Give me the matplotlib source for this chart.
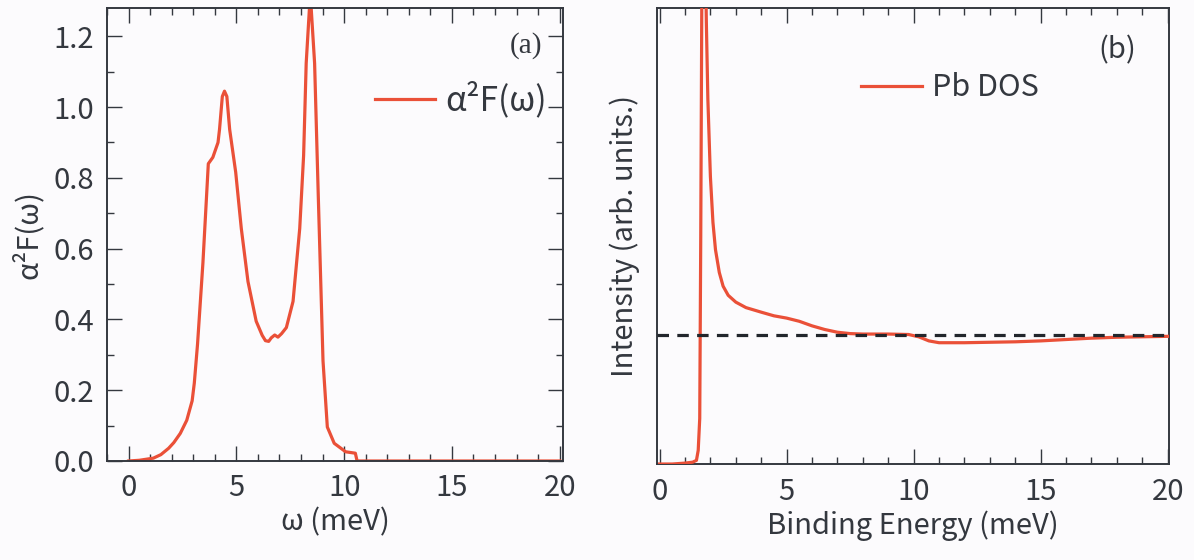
import matplotlib
matplotlib.use("Agg")
import matplotlib.pyplot as plt
from matplotlib.ticker import MultipleLocator, NullLocator

# Eliashberg function of Pb (panel a)
omega = [0.0, 0.5, 1.15, 1.5, 1.86, 2.1, 2.4, 2.7, 2.95, 3.05, 3.2, 3.45, 3.7,
         3.91, 4.15, 4.22, 4.35, 4.45, 4.56, 4.69, 4.97, 5.23, 5.54, 5.92,
         6.2, 6.35, 6.5, 6.62, 6.78, 6.93, 7.1, 7.32, 7.63, 7.94, 8.12, 8.24,
         8.43, 8.63, 8.8, 9.02, 9.22, 9.54, 10.07, 10.52, 10.6, 12.0, 15.0, 20.0]
a2F = [0.0, 0.002, 0.008, 0.018, 0.036, 0.052, 0.078, 0.115, 0.17, 0.22, 0.33,
       0.56, 0.84, 0.858, 0.90, 0.937, 1.03, 1.045, 1.03, 0.937, 0.816,
       0.657, 0.507, 0.395, 0.355, 0.34, 0.338, 0.348, 0.356, 0.35, 0.36,
       0.377, 0.451, 0.657, 0.863, 1.124, 1.32, 1.124, 0.75, 0.283, 0.096,
       0.05, 0.026, 0.022, 0.0, 0.0, 0.0, 0.0]

# Superconducting Pb density of states (panel b)
energy = [0.0, 0.5, 1.0, 1.3, 1.45, 1.52, 1.58, 1.62, 1.66, 1.72, 1.78, 1.84,
          1.9, 2.0, 2.1, 2.2, 2.35, 2.5, 2.7, 3.0, 3.4, 4.0, 4.5, 5.0, 5.5,
          6.0, 6.5, 7.0, 7.5, 8.0, 9.0, 9.8, 10.2, 10.6, 11.0, 12.0, 13.0,
          14.0, 15.0, 16.0, 17.0, 18.0, 19.0, 20.0]
dos = [0.0, 0.0, 0.002, 0.004, 0.008, 0.03, 0.1, 0.5, 1.0, 1.4, 1.2, 0.97,
       0.8, 0.63, 0.53, 0.47, 0.42, 0.39, 0.37, 0.355, 0.343, 0.333, 0.325,
       0.32, 0.313, 0.303, 0.295, 0.289, 0.286, 0.285, 0.285, 0.284, 0.279,
       0.27, 0.266, 0.266, 0.267, 0.268, 0.27, 0.273, 0.276, 0.278, 0.279,
       0.28]
normal_level = 0.283

RED = "#ea5038"
INK = "#34383f"
BG = "#fcfbfd"

plt.rcParams["font.family"] = ["Noto Sans CJK JP", "DejaVu Sans"]
plt.rcParams["text.color"] = INK
plt.rcParams["axes.labelcolor"] = INK
plt.rcParams["xtick.color"] = INK
plt.rcParams["ytick.color"] = INK

fig = plt.figure(figsize=(11.94, 5.6), dpi=100, facecolor=BG)
ax_a = fig.add_axes([0.0896, 0.1768, 0.3819, 0.8089])
ax_b = fig.add_axes([0.5503, 0.1714, 0.4287, 0.8143])


def style_axis(ax):
    ax.set_facecolor(BG)
    for sp in ax.spines.values():
        sp.set_color(INK)
        sp.set_linewidth(1.4)
    ax.tick_params(which="both", direction="in", top=True, right=True,
                   labelsize=21, width=1.0, pad=9)
    ax.tick_params(which="major", length=11)
    ax.tick_params(which="minor", length=5)


# --- panel (a) ---
style_axis(ax_a)
ax_a.plot(omega, a2F, color=RED, lw=2.3, label="α²F(ω)")
ax_a.set_xlim(-1.0, 20.15)
ax_a.set_ylim(0, 1.28)
ax_a.xaxis.set_major_locator(MultipleLocator(5))
ax_a.xaxis.set_minor_locator(MultipleLocator(1))
ax_a.yaxis.set_major_locator(MultipleLocator(0.2))
ax_a.yaxis.set_minor_locator(MultipleLocator(0.1))
ax_a.yaxis.set_major_formatter(lambda v, p: f"{v:.1f}")
ax_a.set_xlabel("ω (meV)", fontsize=21, labelpad=3)
ax_a.set_ylabel("α²F(ω)", fontsize=21, labelpad=7)
ax_a.text(0.955, 0.918, "(a)", transform=ax_a.transAxes, ha="right",
          va="center", fontsize=21, family="Liberation Serif")
ax_a.legend(loc="center right", bbox_to_anchor=(0.965, 0.797), frameon=False,
            fontsize=24, handlelength=1.8, handletextpad=0.3,
            borderaxespad=0, borderpad=0)

# --- panel (b) ---
style_axis(ax_b)
ax_b.plot(energy, dos, color=RED, lw=2.3, label="Pb DOS", zorder=3)
ax_b.axhline(normal_level, color="#22262c", lw=2.3, ls=(0, (3.6, 2.6)),
             zorder=4)
ax_b.set_xlim(-0.1, 20.05)
ax_b.set_ylim(0, 1.0)
ax_b.xaxis.set_major_locator(MultipleLocator(5))
ax_b.xaxis.set_minor_locator(MultipleLocator(1))
ax_b.yaxis.set_major_locator(NullLocator())
ax_b.tick_params(left=False, right=False)
ax_b.set_xlabel("Binding Energy (meV)", fontsize=21, labelpad=3)
ax_b.set_ylabel("Intensity (arb. units.)", fontsize=21, labelpad=12)
ax_b.text(0.935, 0.908, "(b)", transform=ax_b.transAxes, ha="right",
          va="center", fontsize=21)
ax_b.legend(loc="center right", bbox_to_anchor=(0.745, 0.825), frameon=False,
            fontsize=22, handlelength=2.0, handletextpad=0.3,
            borderaxespad=0, borderpad=0)

fig.savefig("out.png", dpi=100, facecolor=BG)
